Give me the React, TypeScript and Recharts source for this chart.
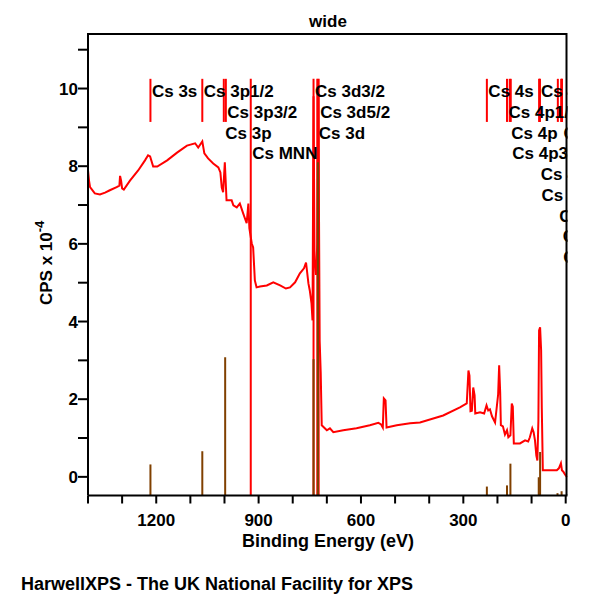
import React from "react";
import {
  ComposedChart,
  Line,
  XAxis,
  YAxis,
  Scatter,
  ReferenceLine,
} from "recharts";

// measured survey spectrum: binding energy (eV) / CPS x 10^-4
const specBE = [
  1400, 1397, 1394, 1380, 1365, 1350, 1336, 1316, 1308, 1306, 1303, 1300, 1295,
  1277, 1253, 1233, 1224, 1218, 1209, 1197, 1168, 1139, 1110, 1086, 1077, 1071,
  1065, 1059, 1048, 1033, 1018, 1012, 1008, 1004, 999, 994, 979, 974, 964, 955,
  945, 935, 930, 927, 920, 916, 911, 906, 896, 876, 857, 837, 820, 808, 793, 779,
  767, 761, 754, 750, 745, 742, 739, 736, 732, 728, 725, 721, 718, 715, 700, 691,
  681, 652, 613, 574, 549, 541, 536, 533, 528, 525, 495, 456, 427, 359, 310, 290,
  285, 282, 279, 275, 271, 267, 265, 251, 239, 232, 227, 222, 216, 207, 198, 195,
  192, 190, 184, 178, 172, 168, 162, 158, 155, 152, 134, 119, 110, 105, 98, 94,
  90, 86, 83, 80, 78, 75, 72, 70, 67, 46, 26, 20, 14, 11, 6, 2, -4,
];
const specCPS = [
  7.89, 7.63, 7.46, 7.3, 7.27, 7.32, 7.38, 7.46, 7.5, 7.75, 7.63, 7.43, 7.4,
  7.63, 7.89, 8.15, 8.28, 8.25, 7.99, 7.99, 8.15, 8.35, 8.53, 8.59, 8.48, 8.56,
  8.64, 8.33, 8.2, 8.07, 7.97, 7.84, 7.45, 7.33, 8.1, 7.12, 7.12, 6.99, 6.94,
  7.04, 6.78, 6.53, 7.04, 6.4, 6.01, 5.91, 5.06, 4.88, 4.9, 4.93, 5.01, 4.93,
  4.85, 4.88, 5.01, 5.24, 5.37, 5.52, 4.98, 4.8, 4.47, 4.03, 9.8, 5.5, 5.2, 6.0,
  10.0, 3.5, 2.69, 1.33, 1.2, 1.25, 1.15, 1.2, 1.25, 1.33, 1.39, 1.35, 1.27,
  2.02, 1.97, 1.27, 1.33, 1.38, 1.4, 1.58, 1.79, 1.89, 2.74, 2.61, 1.69, 1.7,
  2.3, 2.1, 1.63, 1.66, 1.63, 1.84, 1.71, 1.74, 1.56, 1.4, 2.12, 2.87, 2.18,
  1.33, 1.3, 1.09, 1.2, 1.02, 1.07, 1.89, 1.81, 0.86, 0.86, 0.94, 0.91, 1.02,
  1.25, 1.15, 0.94, 0.55, 0.42, 1.45, 3.77, 3.85, 3.26, 1.76, 0.17, 0.17, 0.17,
  0.22, 0.35, 0.17, 0.12, 0.06, -0.01,
];

// peak identification markers
const peakNames = [
  "Cs 3s", "Cs 3p1/2", "Cs 3p3/2", "Cs 3p", "Cs MNN", "Cs 3d3/2", "Cs 3d5/2",
  "Cs 3d", "Cs 4s", "Cs 4p1/2", "Cs 4p", "Cs 4p3/2", "Cs 4d", "Cs 4d3/2",
  "Cs 4d5/2", "Cs 5s", "Cs 5p", "Cs 5p1/2", "Cs 5p3/2",
];
const peakBE = [
  1217, 1065, 996, 1002, 923, 739, 724, 728, 231, 172, 164, 161, 77, 77.5, 75.5,
  23, 11, 13, 11.5,
];
const peakLong = [
  false, false, false, false, true, true, true, true, false, false, false,
  false, false, false, false, false, false, false, false,
];
const peakRow = [0, 0, 1, 2, 3, 0, 1, 2, 0, 1, 2, 3, 0, 4, 5, 6, 2, 7, 8];

// library reference intensities (brown sticks)
const refBE = [1217, 1065, 998, 739, 726, 231, 172, 162, 79, 75, 24, 12];
const refCPS = [
  0.32, 0.66, 3.08, 3.03, 8.1, -0.25, -0.22, 0.34, -0.01, 0.64, -0.42, -0.37,
];

const X_TICKS = [1400, 1300, 1200, 1100, 1000, 900, 800, 700, 600, 500, 400, 300, 200, 100, 0];
const Y_TICKS = [0, 1, 2, 3, 4, 5, 6, 7, 8, 9, 10, 11];

const X_MIN = -5.3;
const X_MAX = 1400;
const Y_MIN = -0.48;
const Y_MAX = 11.43;
const MARKER_TOP = 10.25;
const MARKER_END = 9.14;

const FONT = "'Liberation Sans', Arial, Helvetica, sans-serif";
const RED = "#ff0000";
const BROWN = "#804000";

// plot box (chart margins + axis sizes)
const PLOT = { left: 88, top: 33, width: 479.5, height: 462.5 };

const spectrum = specBE.map((be, i) => ({ be, cps: specCPS[i] }));
const labels = peakNames.map((name, i) => ({
  be: peakBE[i],
  cps: MARKER_TOP,
  name,
  row: peakRow[i],
}));
// top and right sides of the plot box, along the domain corners
const frame = [
  { be: X_MAX, cps: Y_MAX },
  { be: X_MIN, cps: Y_MAX },
  { be: X_MIN, cps: Y_MIN },
];

const tickStyle = { fill: "#000", fontSize: 17, fontWeight: "bold", fontFamily: FONT };
const blackLine = { stroke: "#000", strokeWidth: 2 };

// labels are cut off at the plot frame, like the original
const PeakLabel = (props: any) => {
  const { cx, cy, payload } = props;
  return (
    <text
      x={cx + 1.5}
      y={cy + 18.2 + payload.row * 20.75}
      fontSize={17}
      fontWeight="bold"
      fontFamily={FONT}
      fill="#000"
      clipPath="url(#plotFrameClip)"
    >
      {payload.name}
    </text>
  );
};

const App = () => {
  return (
    <div style={{ position: "absolute", left: 0, top: 0, width: 600, height: 600, background: "#fff" }}>
      <svg width={0} height={0} style={{ position: "absolute" }}>
        <defs>
          <clipPath id="plotFrameClip">
            <rect x={PLOT.left} y={PLOT.top} width={PLOT.width} height={PLOT.height} />
          </clipPath>
        </defs>
      </svg>
      <ComposedChart
        width={600}
        height={600}
        margin={{ top: PLOT.top, right: 600 - PLOT.left - PLOT.width, left: 0, bottom: 74.5 }}
      >
        <XAxis
          dataKey="be"
          type="number"
          domain={[X_MIN, X_MAX]}
          reversed
          allowDataOverflow
          ticks={X_TICKS}
          interval={0}
          tickFormatter={(v: number) => (v % 300 === 0 ? String(v) : "")}
          tick={tickStyle}
          tickLine={blackLine}
          axisLine={blackLine}
          tickSize={8}
          tickMargin={10}
          height={30}
        />
        <YAxis
          type="number"
          domain={[Y_MIN, Y_MAX]}
          allowDataOverflow
          ticks={Y_TICKS}
          interval={0}
          tickFormatter={(v: number) => (v % 2 === 0 ? String(v) : "")}
          tick={tickStyle}
          tickLine={blackLine}
          axisLine={blackLine}
          tickSize={10}
          tickMargin={0}
          width={PLOT.left}
        />
        <Scatter
          data={labels}
          dataKey="cps"
          shape={PeakLabel}
          isAnimationActive={false}
        />
        <Line
          data={spectrum}
          dataKey="cps"
          type="linear"
          stroke={RED}
          strokeWidth={2}
          dot={false}
          isAnimationActive={false}
        />
        {peakBE.map((be, i) => (
          <ReferenceLine
            key={"m" + i}
            segment={[
              { x: be, y: MARKER_TOP },
              { x: be, y: peakLong[i] ? Y_MIN : MARKER_END },
            ]}
            stroke={RED}
            strokeWidth={2}
            ifOverflow="visible"
          />
        ))}
        {refBE.map((be, i) => (
          <ReferenceLine
            key={"r" + i}
            segment={[
              { x: be, y: Y_MIN },
              { x: be, y: refCPS[i] },
            ]}
            stroke={BROWN}
            strokeWidth={2}
            ifOverflow="visible"
          />
        ))}
        <Line
          data={frame}
          dataKey="cps"
          type="linear"
          stroke="#000"
          strokeWidth={4}
          dot={false}
          activeDot={false}
          legendType="none"
          isAnimationActive={false}
        />
      </ComposedChart>
      <svg
        width={600}
        height={600}
        style={{ position: "absolute", left: 0, top: 0, pointerEvents: "none" }}
      >
        <g fontFamily={FONT} fontWeight="bold" fill="#000">
          <text x={328} y={26.5} fontSize={17} textAnchor="middle">
            wide
          </text>
          <text x={328} y={546.5} fontSize={18} textAnchor="middle">
            Binding Energy (eV)
          </text>
          <text x={52} y={305} fontSize={17} transform="rotate(-90 52 305)">
            CPS x 10
            <tspan dy={-8} fontSize={13}>
              -4
            </tspan>
          </text>
          <text x={21} y={590} fontSize={18}>
            HarwellXPS - The UK National Facility for XPS
          </text>
        </g>
      </svg>
    </div>
  );
};

export default App;
